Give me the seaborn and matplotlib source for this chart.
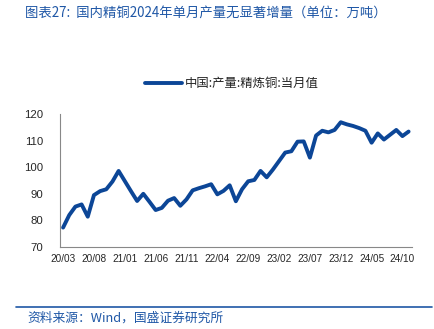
import matplotlib
matplotlib.use("Agg")
import matplotlib.pyplot as plt
import seaborn as sns
import pandas as pd
import numpy as np

months = pd.period_range("2020-03", "2024-11", freq="M")
labels = [f"{p.year % 100:02d}/{p.month:02d}" for p in months]
values = [77.3, 82.0, 85.2, 86.0, 81.4, 89.5, 91.0, 91.7, 94.6, 98.6,
          94.8, 91.0, 87.3, 90.0, 87.0, 83.9, 84.7, 87.4, 88.4, 85.5,
          87.9, 91.3, 92.1, 92.8, 93.6, 89.8, 91.1, 93.2, 87.2, 91.7,
          94.7, 95.2, 98.6, 96.2, 99.1, 102.3, 105.5, 106.0, 109.6, 109.7,
          103.6, 111.9, 113.7, 113.1, 114.0, 116.9, 116.1, 115.5, 114.7, 113.7,
          109.2, 112.7, 110.4, 112.2, 114.0, 111.7, 113.4]
series_name = "中国:产量:精炼铜:当月值"
title = "图表27:  国内精铜2024年单月产量无显著增量（单位：万吨）"
source = "资料来源：Wind，国盛证券研究所"

df = pd.DataFrame({"pos": np.arange(len(values)), "value": values, "series": series_name})

sns.set_theme(style="white")
plt.rcParams['font.family'] = ['Noto Sans CJK SC', 'DejaVu Sans']

fig = plt.figure(figsize=(4.35, 3.29), dpi=100)
ax = fig.add_axes([60/435, 1-247/329, (411.7-60)/435, (247-114)/329])

line_color = "#0c4697"
sns.lineplot(data=df, x="pos", y="value", hue="series", palette=[line_color],
             linewidth=2.8, ax=ax)

n = len(values)
ax.set_xlim(-0.5, n - 0.5)
ax.set_ylim(70, 120)
ax.set_yticks([70, 80, 90, 100, 110, 120])
ax.set_yticklabels([str(v) for v in [70, 80, 90, 100, 110, 120]],
                   fontsize=8.2, family=['Liberation Sans'])
ax.set_xticks(np.arange(0, n, 5))
ax.set_xticklabels([labels[i] for i in range(0, n, 5)], fontsize=7.2,
                   family=['Liberation Sans'])
ax.set_xticks(np.arange(4.5, n, 5), minor=True)
ax.tick_params(axis='x', which='major', length=0, pad=5)
ax.tick_params(axis='x', which='minor', direction='in', length=3, color='#888888')
ax.tick_params(axis='y', direction='in', length=3, color='#888888', pad=12)
ax.set_xlabel("")
ax.set_ylabel("")
for s in ["top", "right"]:
    ax.spines[s].set_visible(False)
for s in ["left", "bottom"]:
    ax.spines[s].set_color("#888888")
    ax.spines[s].set_linewidth(0.8)

leg = ax.legend(loc="upper left", bbox_to_anchor=(0.21, 1.36), frameon=False,
                fontsize=8.9, handlelength=3.0, handletextpad=0.2)
for t in leg.get_texts():
    t.set_color("#222222")

fig.text(25/435, 1-13/329, title, fontsize=9.6, color="#1f57a6",
         ha="left", va="center", style="italic")
fig.add_artist(matplotlib.lines.Line2D([16/435, 432/435], [1-306.5/329, 1-306.5/329],
                                       color="#1f57a6", linewidth=1.2))
fig.text(27/435, 1-318/329, source, fontsize=9.2, color="#1f57a6",
         ha="left", va="center", style="italic")

fig.savefig("out.png", dpi=100)
